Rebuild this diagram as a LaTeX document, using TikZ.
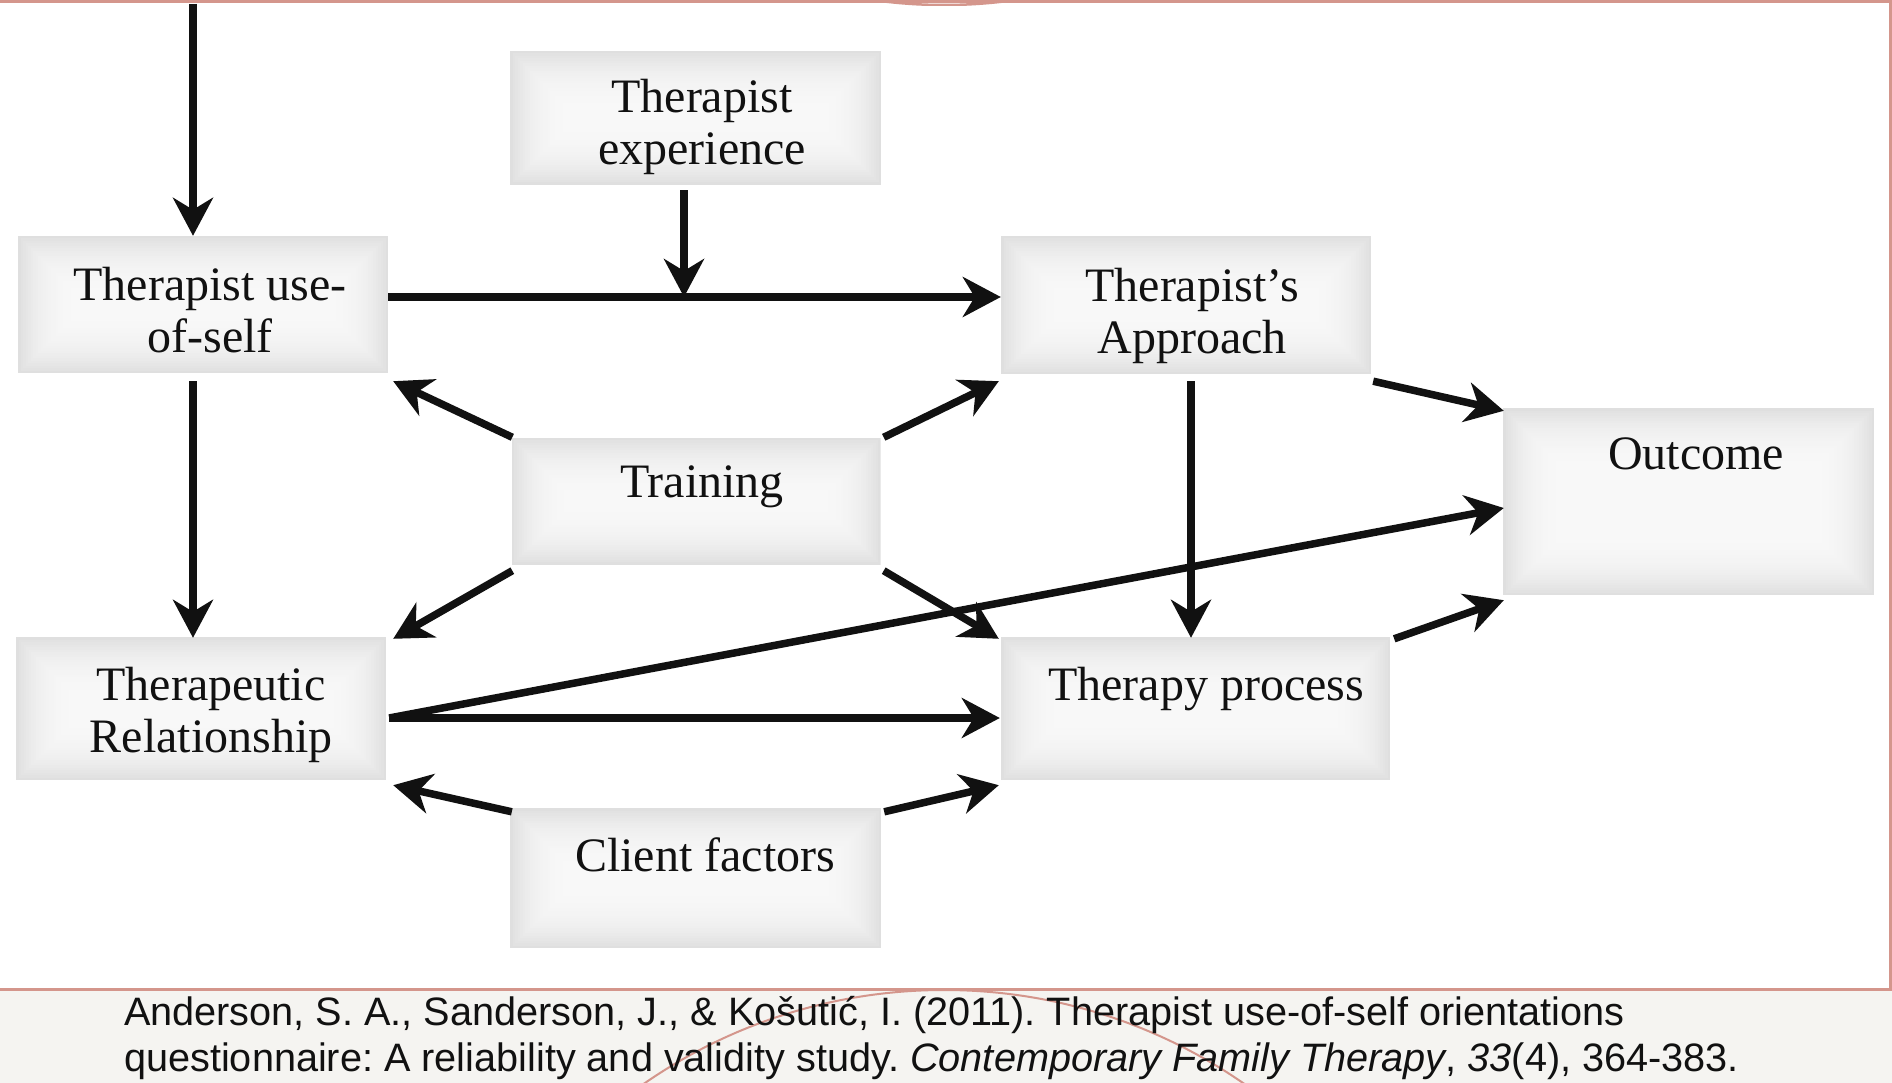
\documentclass[tikz,border=0pt]{standalone}
\usepackage{fontspec}
\setmainfont{Liberation Serif}
\newfontfamily\capfont{Liberation Sans}
\usetikzlibrary{arrows.meta}
\definecolor{slidered}{HTML}{D4968C}
\definecolor{capbg}{HTML}{F5F4F1}
\definecolor{ink}{HTML}{111111}
\tikzset{
  glowbox/.style={rectangle, inner sep=0pt, draw=none,
    path picture={
      \foreach \k in {0,...,23}{
        \pgfmathsetmacro\s{3+22*exp(-\k/10)}
        \fill[gray!\s] ([shift={(\k*2.5pt,-\k*2.5pt)}]path picture bounding box.north west)
          rectangle ([shift={(-\k*2.5pt,\k*2.5pt)}]path picture bounding box.south east);
      }
    }},
  lbl/.style={font=\fontsize{48}{52}\selectfont, inner sep=0pt, align=center, text=ink},
  capline/.style={font=\capfont\fontsize{39.65}{45}\selectfont, inner sep=0pt, anchor=base west, text=ink},
  arr/.style={draw=ink, line width=7.5pt, -{Stealth[length=38pt,width=40pt,inset=12pt]}},
  redline/.style={draw=slidered, line width=3pt}
}
\begin{document}
\frenchspacing
\begin{tikzpicture}[x=1pt,y=-1pt]
\useasboundingbox (0,0) rectangle (1892,1083);
\fill[white] (0,0) rectangle (1892,1083);
% caption strip
\fill[capbg] (0,990) rectangle (1892,1083);
\begin{scope}
  \clip (0,991) rectangle (1892,1083);
  \draw[slidered, line width=2pt] (944,1517) circle[radius=527];
\end{scope}
\node[capline] (cap1) at (124,1025) {Anderson, S. A., Sanderson, J., \& Košutić, I. (2011). Therapist use-of-self orientations};
\node[capline] (cap2) at (124,1071) {questionnaire: A reliability and validity study. \textit{Contemporary Family Therapy}, \textit{33}(4), 364-383.};
% slide frame lines
\draw[redline] (0,1.5) -- (1892,1.5);
\draw[redline] (1890,0) -- (1890,989);
\draw[redline] (0,989) -- (1892,989);
\begin{scope}
  \clip (0,0) rectangle (1892,6);
  \draw[slidered, line width=2.5pt] (944,-495) circle[radius=500];
\end{scope}

% boxes
\node[glowbox, minimum width=371pt, minimum height=134pt] (exp) at (695.5,118) {};
\node[glowbox, minimum width=370pt, minimum height=137pt] (tuos) at (203,304.5) {};
\node[glowbox, minimum width=370pt, minimum height=138pt] (appr) at (1186,305) {};
\node[glowbox, minimum width=369pt, minimum height=127pt] (train) at (696,501) {};
\node[glowbox, minimum width=371pt, minimum height=187pt] (out) at (1688.5,501.5) {};
\node[glowbox, minimum width=370pt, minimum height=143pt] (trel) at (201,708.5) {};
\node[glowbox, minimum width=389pt, minimum height=143pt] (tproc) at (1195.5,708.5) {};
\node[glowbox, minimum width=371pt, minimum height=140pt] (client) at (695.5,878) {};

% texts
\node[lbl] (expT) at (702,128.6) {\strut Therapist\\\strut experience};
\node[lbl] (tuosT) at (210,315.6) {\strut Therapist use-\\\strut of-self};
\node[lbl] (apprT) at (1192,316.6) {\strut Therapist’s\\\strut Approach};
\node[lbl] (trainT) at (702,486.6) {\strut Training};
\node[lbl] (outT) at (1696,458.6) {\strut Outcome};
\node[lbl] (trelT) at (211,715.6) {\strut Therapeutic\\\strut Relationship};
\node[lbl] (tprocT) at (1206,689.6) {\strut Therapy process};
\node[lbl] (clientT) at (705,860.6) {\strut Client factors};

% connectors
\coordinate (topc) at (193,4);
\coordinate (j) at (684,297);
\draw[arr] (topc) -- (topc |- tuos.north);
\draw[arr] ([shift={(-11.5,5)}]exp.south) -- (j);
\draw[arr] (tuos.east |- j) -- (appr.west |- j);
\draw[arr] ([shift={(-10,8)}]tuos.south) -- ([shift={(-8,1)}]trel.north);
\draw[arr] ([shift={(1,0)}]train.north west) -- ([shift={(5,8)}]tuos.south east);
\draw[arr] ([shift={(3,0)}]train.north east) -- ([shift={(-2,7)}]appr.south west);
\draw[arr] ([shift={(1,6)}]train.south west) -- ([shift={(7,2)}]trel.north east);
\draw[arr] ([shift={(3,6)}]train.south east) -- ([shift={(-2,2)}]tproc.north west);
\draw[arr] ([shift={(5,7)}]appr.south) -- ([shift={(-4.5,1)}]tproc.north);
\draw[arr] ([shift={(2,7)}]appr.south east) -- ([shift={(1,3)}]out.north west);
\draw[arr] ([shift={(3,9.5)}]trel.east) -- ([shift={(1,6.5)}]out.west);
\draw[arr] ([shift={(3,9.5)}]trel.east) -- ([shift={(-1,9.5)}]tproc.west);
\draw[arr] ([shift={(4,2)}]tproc.north east) -- ([shift={(1,5)}]out.south west);
\draw[arr] ([shift={(2,4)}]client.north west) -- ([shift={(7,5)}]trel.south east);
\draw[arr] ([shift={(3,4)}]client.north east) -- ([shift={(-2,5)}]tproc.south west);
\end{tikzpicture}
\end{document}
